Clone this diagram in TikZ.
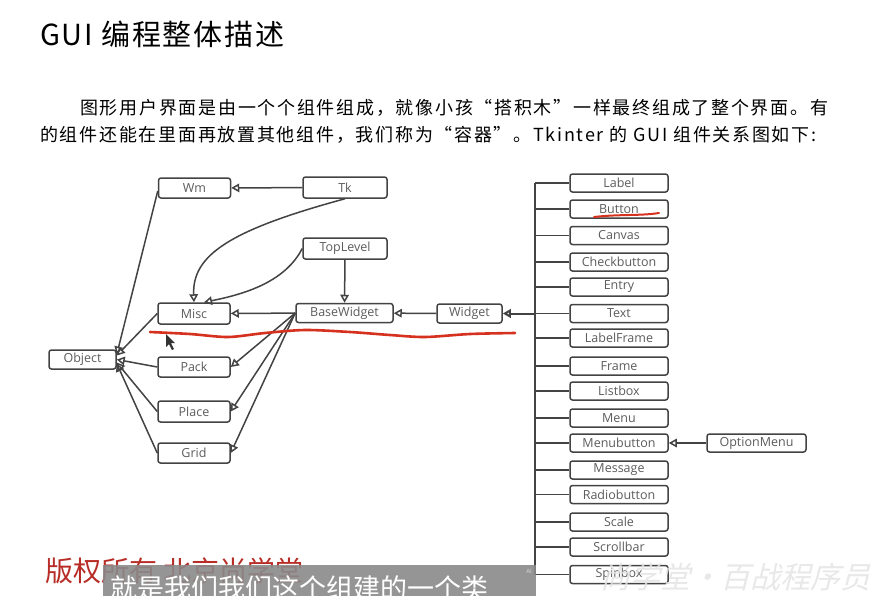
\documentclass[tikz,border=0pt]{standalone}
\usepackage{fontspec}
\setmainfont{Open Sans}
\newfontfamily\cjk{Noto Sans CJK SC}
\newfontfamily\cjkwide[LetterSpace=6]{Noto Sans CJK SC}
\newfontfamily\cjkprose[LetterSpace=9.6]{Noto Sans CJK SC}
\newfontfamily\cjkslant[FakeSlant=0.25]{Noto Sans CJK SC}
\usetikzlibrary{arrows.meta,positioning}
\definecolor{Ink}{HTML}{434343}
\definecolor{LabelGray}{HTML}{5C5C5C}
\definecolor{Pen}{HTML}{D6301E}
\definecolor{Seal}{HTML}{B82C26}
\definecolor{Veil}{HTML}{8A8A8A}
\definecolor{Ghost}{HTML}{E4E4E4}
\tikzset{
  cls/.style={draw=Ink,fill=white,line width=1.5pt,rounded corners=2.5pt,minimum height=20pt,minimum width=72pt,inner sep=0pt,font=\fontsize{12.5}{14}\selectfont,text=LabelGray},
  wbox/.style={cls,minimum width=98pt,minimum height=18pt},
  inh/.style={-{Triangle[open,length=8pt,width=8.5pt]},draw=Ink,line width=1.5pt},
  tie/.style={draw=Ink,line width=1.5pt},
  scribble/.style={draw=Pen,line width=2.6pt,line cap=round,line join=round},
  prose/.style={anchor=base west,inner sep=0pt}
}

\begin{document}
\begin{tikzpicture}[x=1pt,y=-1pt]
  \fill[white] (0,0) rectangle (881,595);
  \useasboundingbox (0,0) rectangle (881,595);
  \begin{scope}
  \clip (0,0) rectangle (881,595);

  % heading and text
  \node[prose,font=\cjkwide\fontsize{29}{31}\selectfont] (title) at (40,45) {GUI 编程整体描述};
  \node[prose,font=\cjkprose\fontsize{18}{20}\selectfont] (line1) at (80,114) {图形用户界面是由一个个组件组成，就像小孩“搭积木”一样最终组成了整个界面。有};
  \node[prose,font=\cjkprose\fontsize{18}{20}\selectfont] (line2) at (40,141) {的组件还能在里面再放置其他组件，我们称为“容器”。Tkinter 的 GUI 组件关系图如下:};

  % left part of the tree
  \node[cls] (wm) at (194.5,188) {Wm};
  \node[cls,minimum width=84pt,minimum height=21pt] (tk) at (345,187.5) {Tk};
  \node[cls,minimum width=84pt,minimum height=21pt] (toplevel) at (345,248.5) {TopLevel};
  \node[cls,minimum height=21pt] (misc) at (194,313.5) {Misc};
  \node[cls,minimum width=97pt,minimum height=19pt] (base) at (344.5,313) {BaseWidget};
  \node[cls,minimum width=65pt,minimum height=19pt] (widget) at (469.5,313.5) {Widget};
  \node[cls,minimum width=67pt,minimum height=19pt] (object) at (82.5,359.5) {Object};
  \node[cls] (pack) at (194,367) {Pack};
  \node[cls,minimum height=21pt] (place) at (194,411.5) {Place};
  \node[cls] (grid) at (194,453) {Grid};

  % widget classes
  \foreach \name/\yy in {Label/183,Button/209,Canvas/235.5,Checkbutton/262,Entry/287,Text/313.5,LabelFrame/338,Frame/366,Listbox/391,Menu/418,Menubutton/443,Message/470,Radiobutton/494.5,Scale/522,Scrollbar/547,Spinbox/574.5}
    \node[wbox] (w\name) at (619,\yy) {\name};
  \node[wbox,minimum width=99pt] (optionmenu) at (756.5,443) {OptionMenu};

  % bus
  \coordinate (bus) at (535,313.5);
  \draw[tie,line width=2pt] (bus |- wLabel.west) -- (bus |- wSpinbox.west);
  \foreach \name in {Label,Button,Canvas,Checkbutton,Entry,Text,LabelFrame,Frame,Listbox,Menu,Menubutton,Message,Radiobutton,Scale,Scrollbar,Spinbox}
    \draw[tie] (bus |- w\name.west) -- (w\name.west);
  \draw[inh,line width=2pt] (bus) -- (widget.east);
  \draw[inh] (optionmenu) -- (wMenubutton);

  % inheritance
  \draw[inh] (tk) -- (wm);
  \draw[inh] (tk.south) .. controls (230,230) and (192,255) .. (misc.north);
  \draw[inh] (toplevel.west) .. controls (285,282) and (245,294) .. ([xshift=10pt]misc.north);
  \draw[inh] (toplevel) -- (base);
  \draw[inh] (base) -- (misc);
  \draw[inh] (widget) -- (base);
  \foreach \n in {pack,place,grid}
    \draw[inh] (base.west) -- (\n.east);
  \draw[inh] ([yshift=-3pt]wm.west) -- ([yshift=5pt]object.east);
  \draw[inh] (misc.west) -- ([yshift=4pt]object.east);
  \draw[inh] (pack.west) -- (object.east);
  \draw[inh] (place.west) -- ([yshift=-3pt]object.east);
  \draw[inh] (grid.west) -- ([yshift=-4pt]object.east);

  % pen marks
  \draw[scribble] plot[smooth] coordinates {(150,332) (190,334) (228,337) (265,333) (305,330) (350,332) (390,335) (425,337) (470,334) (515,333)};
  \draw[scribble,line width=2pt] (594,217) .. controls (620,214) and (640,216) .. (659,213);
  \fill[black!80] (166,334) -- (166,347) -- (169,344) -- (172,350) -- (174,349) -- (171,343) -- (175,343) -- cycle;

  % overlays
  \node[prose,font=\cjk\fontsize{28}{30}\selectfont,text=Seal] (seal) at (45,581) {版权所有 北京尚学堂};
  \fill[Veil,opacity=.9] (103,565) rectangle (536,600);
  \node[prose,font=\cjk\fontsize{27}{29}\selectfont,text=white] (caption) at (110,598) {就是我们我们这个组建的一个类};
  \node[font=\fontsize{6}{7}\selectfont,text=white!85!black,inner sep=0pt] (ai) at (529,571) {AI};
  \node[prose,font=\cjkslant\fontsize{30}{32}\selectfont,text=Ghost,opacity=.85] (mark) at (600,588) {尚学堂·百战程序员};
  \end{scope}
\end{tikzpicture}
\end{document}
